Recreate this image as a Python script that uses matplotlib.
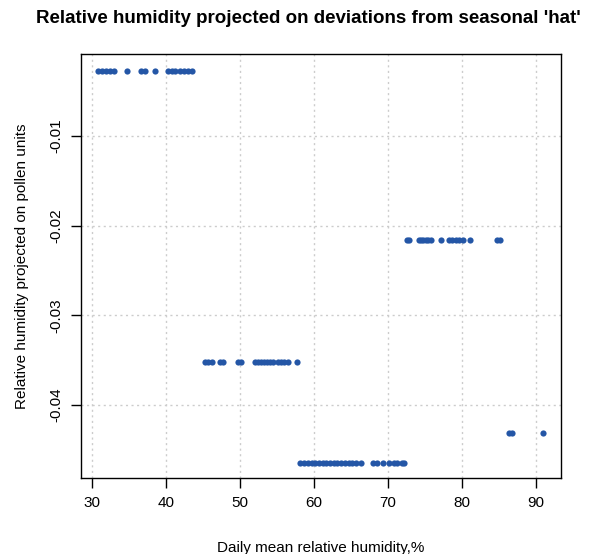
import matplotlib
matplotlib.use("Agg")
import matplotlib.pyplot as plt

plt.rcParams['font.family'] = ['Liberation Sans', 'DejaVu Sans']

# humidity (%) and projected value for each level of the fitted step
hum_a = [30.8, 31.35, 31.9, 32.5, 33.0, 34.8, 36.7, 37.2, 38.6,
         40.3, 40.8, 41.3, 41.9, 42.5, 43.0, 43.6]
proj_a = -0.00275

hum_b = [72.6, 72.9, 74.2, 74.5, 74.8, 75.1, 75.4, 75.8, 77.2, 78.2,
         78.7, 79.2, 79.6, 80.2, 81.1, 84.8, 85.1]
proj_b = -0.02156

hum_c = [45.3, 45.75, 46.2, 47.3, 47.8, 49.8, 50.1, 52.05, 52.5, 52.9,
         53.3, 53.7, 54.1, 54.5, 55.2, 55.6, 56.0, 56.5, 57.7]
proj_c = -0.03516

hum_d = [58.2, 58.7, 59.2, 59.7, 60.2, 60.7, 61.2, 61.7, 62.2, 62.7,
         63.2, 63.7, 64.2, 64.7, 65.2, 65.7, 66.4, 68.0, 68.6, 69.4,
         70.2, 70.8, 71.3, 71.9, 72.2]
proj_d = -0.04647

hum_e = [86.4, 86.8, 91.0]
proj_e = -0.04316

x_ticks = [30, 40, 50, 60, 70, 80, 90]
y_ticks = [-0.01, -0.02, -0.03, -0.04]
y_labels = ['-0.01', '-0.02', '-0.03', '-0.04']

fig = plt.figure(figsize=(5.96, 5.54), dpi=100)
ax = fig.add_axes([0.1359, 0.1372, 0.8054, 0.7653])

groups = [(hum_a, proj_a), (hum_b, proj_b), (hum_c, proj_c),
          (hum_d, proj_d), (hum_e, proj_e)]
for hx, py in groups:
    ax.scatter(hx, [py] * len(hx), s=20, color='#2456a6', linewidths=0,
               zorder=3)

ax.set_xlim(28.55, 93.4)
ax.set_ylim(-0.04814, -0.00086)

ax.set_xticks(x_ticks)
ax.set_yticks(y_ticks)
ax.set_yticklabels(y_labels, rotation=90, va='center')
ax.tick_params(axis='both', length=7, width=1, labelsize=11, pad=6)

# dotted grid at the tick positions
for xt in x_ticks:
    ax.axvline(xt, color='#cccccc', lw=1, ls=(0, (1.5, 2.5)), zorder=1)
for yt in y_ticks:
    ax.axhline(yt, color='#cccccc', lw=1, ls=(0, (1.5, 2.5)), zorder=1)

for sp in ax.spines.values():
    sp.set_linewidth(1)
    sp.set_color('black')

ax.set_xlabel('Daily mean relative humidity,%', fontsize=11, labelpad=22)
ax.set_ylabel('Relative humidity projected on pollen units', fontsize=11,
              labelpad=14)
fig.text(0.517, 0.967, "Relative humidity projected on deviations from seasonal 'hat'",
         ha='center', va='center', fontsize=13.5, fontweight='bold')

fig.savefig('out.png', dpi=100)
